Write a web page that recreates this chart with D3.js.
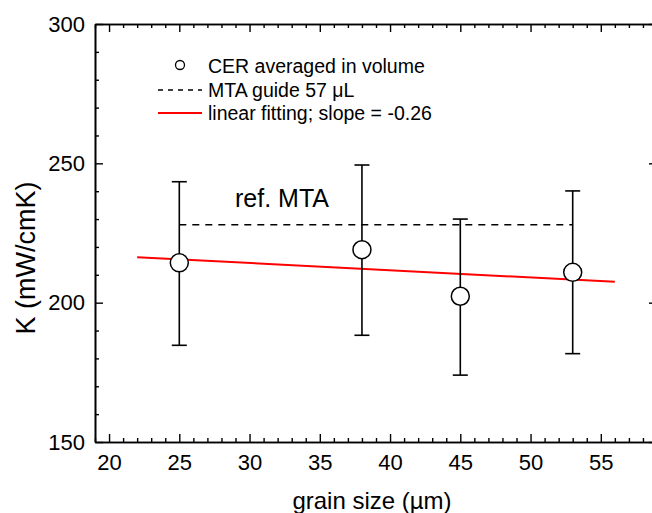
<!DOCTYPE html>
<html>
<head>
<meta charset="utf-8">
<script src="https://cdn.jsdelivr.net/npm/d3@7"></script>
<style>
  html, body { margin: 0; padding: 0; background: #fff; }
  svg { display: block; font-family: "Liberation Sans", Arial, sans-serif; }
</style>
</head>
<body>
<svg id="chart" width="652" height="513"></svg>
<script>
// Grain size (µm) and averaged thermal conductivity K (mW/cmK)
const grainSize = [25, 38, 45, 53];
const kMean     = [214.3, 219.0, 202.3, 210.9];
const kUpper    = [243.4, 249.4, 230.0, 240.1];
const kLower    = [184.7, 188.3, 174.0, 181.7];

// MTA guide reference level
const refLevel = 228;
const refRange = [25, 53];

// Linear fit: K = intercept + slope * size
const fitSlope = -0.26;
const fitIntercept = 222.05;
const fitRange = [22, 56];

const xTicks = [20, 25, 30, 35, 40, 45, 50, 55];
const yTicks = [150, 200, 250, 300];

const legendLabels = ["CER averaged in volume", "MTA guide 57 \u03BCL", "linear fitting; slope = -0.26"];

const svg = d3.select("#chart");
const x = d3.scaleLinear().domain([19, 59]).range([95, 657]);
const y = d3.scaleLinear().domain([150, 300]).range([442, 24]);

const xMinor = d3.range(19, 60, 1).filter(v => !xTicks.includes(v));
const yMinor = d3.range(150, 301, 10).filter(v => !yTicks.includes(v));

function styleAxis(g) {
  g.selectAll("path.domain").attr("stroke", "#000").attr("stroke-width", 1.6);
  g.selectAll(".tick line").attr("stroke", "#000").attr("stroke-width", 1.4);
  g.selectAll(".tick text").attr("fill", "#000").style("font-size", "22px")
    .style("font-family", "'Liberation Sans', Arial, sans-serif");
}

// Minor ticks
svg.append("g").attr("transform", `translate(0,${y(150)})`)
  .call(d3.axisBottom(x).tickValues(xMinor).tickSize(-4).tickSizeOuter(0).tickFormat(""))
  .call(styleAxis);
svg.append("g").attr("transform", `translate(0,${y(300)})`)
  .call(d3.axisTop(x).tickValues(xMinor).tickSize(-4).tickSizeOuter(0).tickFormat(""))
  .call(styleAxis);
svg.append("g").attr("transform", `translate(${x(19)},0)`)
  .call(d3.axisLeft(y).tickValues(yMinor).tickSize(-4).tickSizeOuter(0).tickFormat(""))
  .call(styleAxis);
svg.append("g").attr("transform", `translate(${x(59)},0)`)
  .call(d3.axisRight(y).tickValues(yMinor).tickSize(-4).tickSizeOuter(0).tickFormat(""))
  .call(styleAxis);

// Major ticks and labels
svg.append("g").attr("transform", `translate(0,${y(150)})`)
  .call(d3.axisBottom(x).tickValues(xTicks).tickSize(-8).tickSizeOuter(0).tickPadding(12))
  .call(styleAxis);
svg.append("g").attr("transform", `translate(0,${y(300)})`)
  .call(d3.axisTop(x).tickValues(xTicks).tickSize(-8).tickSizeOuter(0).tickFormat(""))
  .call(styleAxis);
svg.append("g").attr("transform", `translate(${x(19)},0)`)
  .call(d3.axisLeft(y).tickValues(yTicks).tickSize(-8).tickSizeOuter(0).tickPadding(10))
  .call(styleAxis);
svg.append("g").attr("transform", `translate(${x(59)},0)`)
  .call(d3.axisRight(y).tickValues(yTicks).tickSize(-8).tickSizeOuter(0).tickFormat(""))
  .call(styleAxis);

// Axis titles
svg.append("text")
  .attr("x", 372).attr("y", 509)
  .attr("text-anchor", "middle")
  .style("font-size", "24px")
  .text("grain size (\u00B5m)");

svg.append("text")
  .attr("transform", "translate(35,258) rotate(-90)")
  .attr("text-anchor", "middle")
  .style("font-size", "27px")
  .text("K (mW/cmK)");

// Reference line
svg.append("line")
  .attr("x1", x(refRange[0])).attr("x2", x(refRange[1]))
  .attr("y1", y(refLevel)).attr("y2", y(refLevel))
  .attr("stroke", "#000").attr("stroke-width", 1.5)
  .attr("stroke-dasharray", "7,6");

svg.append("text")
  .attr("x", 235).attr("y", 207)
  .style("font-size", "25px")
  .text("ref. MTA");

// Fitted line
svg.append("line")
  .attr("x1", x(fitRange[0])).attr("x2", x(fitRange[1]))
  .attr("y1", y(fitIntercept + fitSlope * fitRange[0]))
  .attr("y2", y(fitIntercept + fitSlope * fitRange[1]))
  .attr("stroke", "#ff0000").attr("stroke-width", 2);

// Error bars
const pts = grainSize.map((g, i) => ({ g, m: kMean[i], hi: kUpper[i], lo: kLower[i] }));
const eb = svg.append("g").attr("stroke", "#000").attr("stroke-width", 1.6);
pts.forEach(d => {
  eb.append("line").attr("x1", x(d.g)).attr("x2", x(d.g)).attr("y1", y(d.lo)).attr("y2", y(d.hi));
  eb.append("line").attr("x1", x(d.g) - 7.5).attr("x2", x(d.g) + 7.5).attr("y1", y(d.hi)).attr("y2", y(d.hi));
  eb.append("line").attr("x1", x(d.g) - 7.5).attr("x2", x(d.g) + 7.5).attr("y1", y(d.lo)).attr("y2", y(d.lo));
});

// Markers
svg.append("g").selectAll("circle").data(pts).join("circle")
  .attr("cx", d => x(d.g)).attr("cy", d => y(d.m)).attr("r", 9)
  .attr("fill", "#fff").attr("stroke", "#000").attr("stroke-width", 1.5);

// Legend
const lg = svg.append("g");
lg.append("circle").attr("cx", 180).attr("cy", 65).attr("r", 4.5)
  .attr("fill", "#fff").attr("stroke", "#000").attr("stroke-width", 1.3);
lg.append("line").attr("x1", 158).attr("x2", 202).attr("y1", 90).attr("y2", 90)
  .attr("stroke", "#000").attr("stroke-width", 1.3).attr("stroke-dasharray", "5,5");
lg.append("line").attr("x1", 158).attr("x2", 202).attr("y1", 113).attr("y2", 113)
  .attr("stroke", "#ff0000").attr("stroke-width", 2);
const rowsY = [73, 97, 120];
legendLabels.forEach((t, i) => {
  lg.append("text").attr("x", 208).attr("y", rowsY[i]).style("font-size", "19.5px").text(t);
});
</script>
</body>
</html>
